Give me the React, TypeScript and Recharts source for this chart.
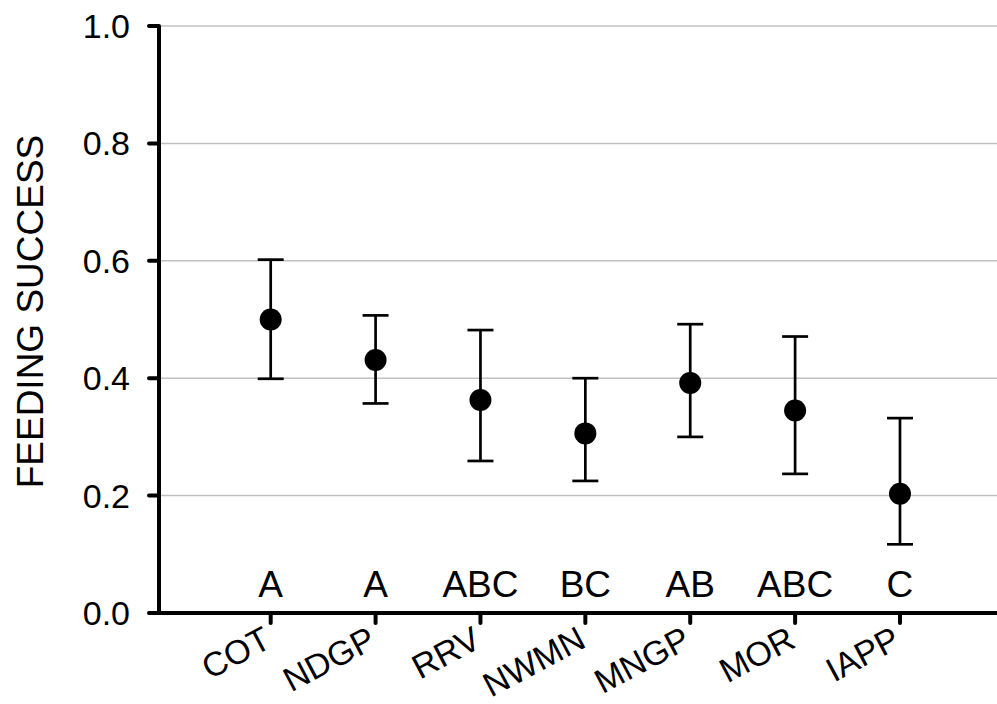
import React from "react";
import {
  ComposedChart,
  Scatter,
  XAxis,
  YAxis,
  CartesianGrid,
  ErrorBar,
} from "recharts";

const sites = ["COT", "NDGP", "RRV", "NWMN", "MNGP", "MOR", "IAPP"];
const means = [0.5, 0.431, 0.363, 0.306, 0.392, 0.345, 0.203];
const lower = [0.399, 0.357, 0.259, 0.225, 0.3, 0.237, 0.117];
const upper = [0.602, 0.507, 0.482, 0.4, 0.492, 0.471, 0.332];
const groups = ["A", "A", "ABC", "BC", "AB", "ABC", "C"];
const yTicks = [0, 0.2, 0.4, 0.6, 0.8, 1.0];
const xTicks = sites.map((_, i) => i);

const font = "'Liberation Sans', Arial, sans-serif";

const data = sites.map((site, i) => ({
  idx: i,
  site,
  mean: means[i],
  err: [means[i] - lower[i], upper[i] - means[i]],
  base: 0,
  group: groups[i],
}));

// rotated site names, right end sitting under the tick
const XTick = (props: any) => {
  const { x, y, payload } = props;
  return (
    <g transform={`translate(${x - 9},${y})`}>
      <text
        textAnchor="end"
        transform="rotate(-28)"
        dy="0.71em"
        fontSize={34}
        fontFamily={font}
        fill="#000"
      >
        {sites[payload.value]}
      </text>
    </g>
  );
};

const YTitle = (props: any) => {
  const vb = props.viewBox;
  const cx = 30;
  const cy = vb.y + vb.height / 2 - 8;
  return (
    <text
      x={cx}
      y={cy}
      transform={`rotate(-90 ${cx} ${cy})`}
      textAnchor="middle"
      dominantBaseline="central"
      fontSize={37}
      fontFamily={font}
      fill="#000"
    >
      FEEDING SUCCESS
    </text>
  );
};

const Dot = (props: any) => (
  <circle cx={props.cx} cy={props.cy} r={11} fill="#000" />
);

const Letter = (props: any) => (
  <text
    x={props.cx}
    y={props.cy - 16}
    textAnchor="middle"
    fontSize={37}
    fontFamily={font}
    fill="#000"
  >
    {props.payload.group}
  </text>
);

export default function App() {
  return (
    <div style={{ position: "absolute", left: 0, top: 0, background: "#fff" }}>
      <ComposedChart
        width={997}
        height={704}
        data={data}
        margin={{ top: 26, right: 0, bottom: 0, left: 0 }}
      >
        <CartesianGrid
          horizontal
          vertical={false}
          stroke="#c0c0c0"
          strokeWidth={1.5}
        />
        <XAxis
          dataKey="idx"
          type="number"
          domain={[-1.065, 6.925]}
          ticks={xTicks}
          allowDataOverflow
          height={91}
          axisLine={{ stroke: "#000", strokeWidth: 4 }}
          tickLine={{ stroke: "#000", strokeWidth: 4, strokeLinecap: "round" }}
          tickSize={10}
          tickMargin={2}
          tick={<XTick />}
          interval={0}
        />
        <YAxis
          width={159}
          domain={[0, 1]}
          ticks={yTicks}
          tickFormatter={(v: number) => v.toFixed(1)}
          axisLine={{ stroke: "#000", strokeWidth: 4 }}
          tickLine={{ stroke: "#000", strokeWidth: 4, strokeLinecap: "round" }}
          tickSize={10}
          tickMargin={19}
          tick={{ fill: "#000", fontSize: 34, fontFamily: font }}
          label={<YTitle />}
        />
        <Scatter dataKey="base" shape={<Letter />} isAnimationActive={false} />
        <Scatter dataKey="mean" shape={<Dot />} isAnimationActive={false}>
          <ErrorBar
            dataKey="err"
            direction="y"
            width={13}
            stroke="#000"
            strokeWidth={2.7}
          />
        </Scatter>
      </ComposedChart>
    </div>
  );
}
